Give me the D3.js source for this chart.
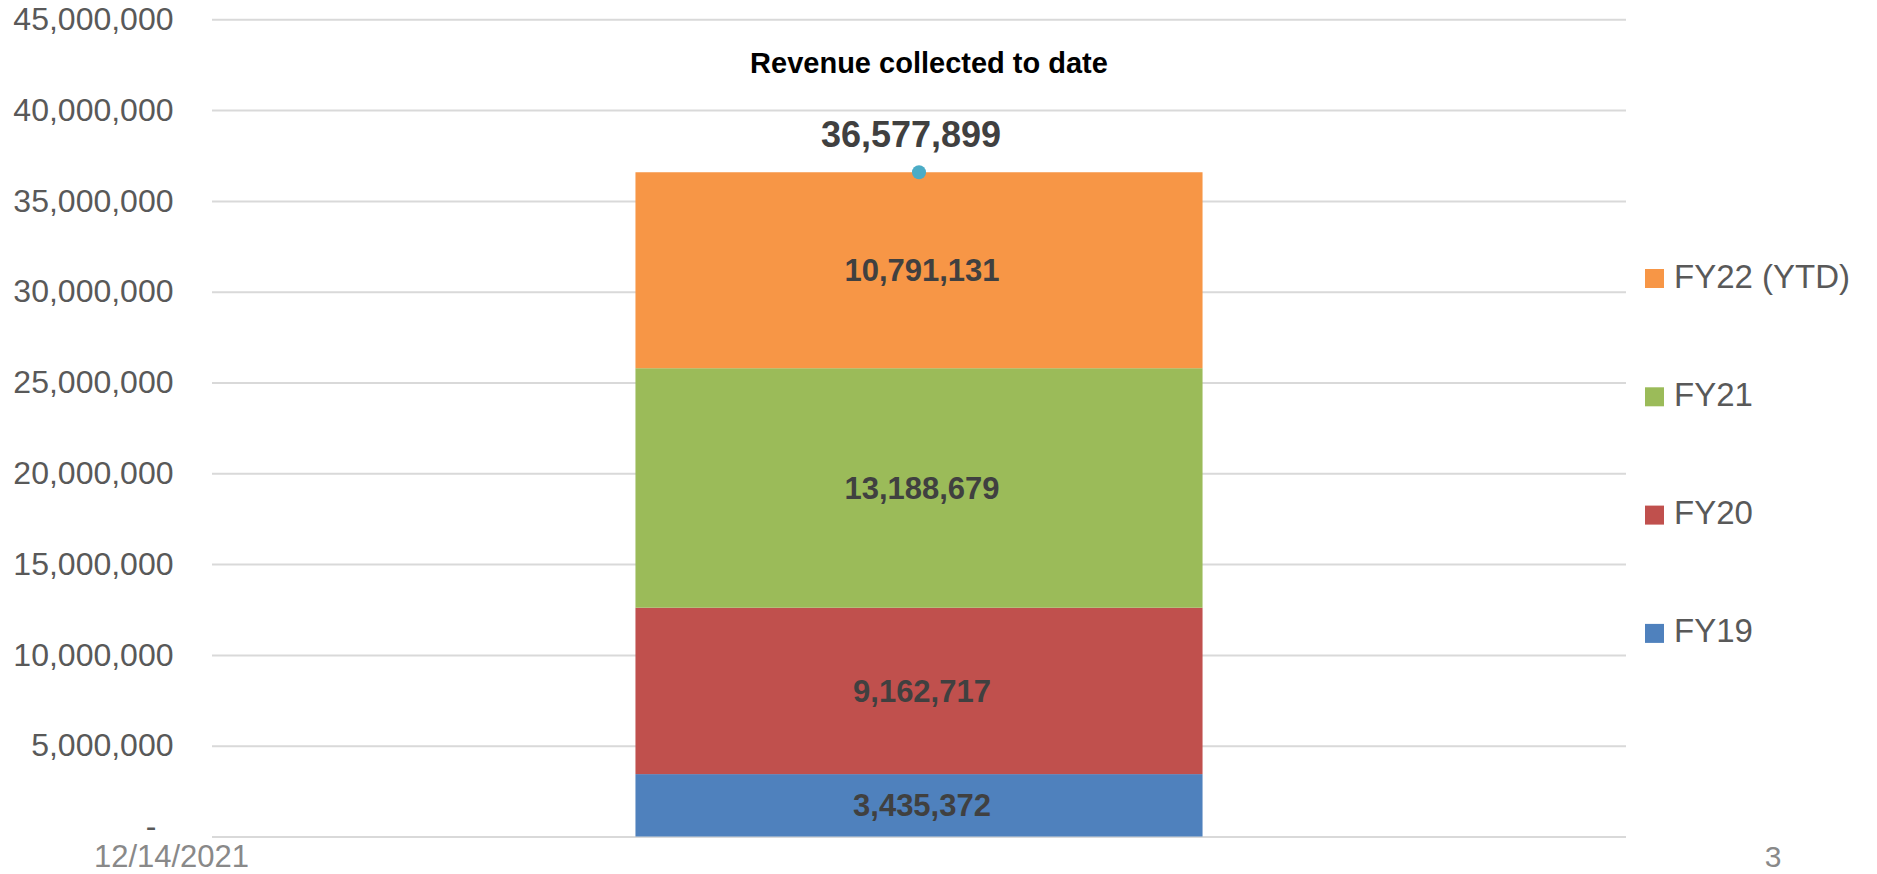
<!DOCTYPE html>
<html>
<head>
<meta charset="utf-8">
<script src="https://cdn.jsdelivr.net/npm/d3@7"></script>
<style>
  body { margin: 0; background: #fff; }
  svg { display: block; font-family: "Liberation Sans", Arial, sans-serif; }
</style>
</head>
<body>
<svg id="chart" width="1877" height="874"></svg>
<script>
"use strict";

// chart data
const categories = ["Revenue collected to date"];
const seriesNames = ["FY19", "FY20", "FY21", "FY22 (YTD)"];
const seriesValues = [3435372, 9162717, 13188679, 10791131];
const seriesColors = ["#4F81BD", "#C0504D", "#9BBB59", "#F79646"];
const yTicks = [0, 5000000, 10000000, 15000000, 20000000, 25000000, 30000000, 35000000, 40000000, 45000000];
const footerDate = "12/14/2021";
const footerPage = "3";

const svg = d3.select("#chart");
const plot = {left: 212, right: 1626, top: 19.3, bottom: 836.5};

const x = d3.scaleBand()
    .domain(categories)
    .range([plot.left, plot.right])
    .paddingInner(0.4275)
    .paddingOuter(0.4275);

const y = d3.scaleLinear()
    .domain([0, 45000000])
    .range([plot.bottom, plot.top]);

const fmt = d3.format(",");

// y axis with gridlines
const yAxis = svg.append("g")
    .attr("transform", `translate(${plot.left},0)`)
    .call(d3.axisLeft(y)
        .tickValues(yTicks)
        .tickSizeInner(-(plot.right - plot.left))
        .tickSizeOuter(0)
        .tickPadding(38.5)
        .tickFormat(d => d === 0 ? "-" : fmt(d)));

yAxis.select(".domain").remove();
yAxis.selectAll(".tick line").attr("stroke", "#d9d9d9").attr("stroke-width", 2);
yAxis.selectAll(".tick text")
    .attr("fill", "#595959")
    .style("font-size", "32px")
    .attr("dx", d => d === 0 ? -17 : 0)
    .attr("dy", d => d === 0 ? "0.0em" : "0.32em");

// stacked segments
const stacked = [];
let base = 0;
seriesValues.forEach((v, i) => {
    stacked.push({name: seriesNames[i], value: v, y0: base, y1: base + v, color: seriesColors[i]});
    base += v;
});
const total = base;
const cat = categories[0];

svg.append("g").selectAll("rect")
    .data(stacked)
    .enter().append("rect")
    .attr("x", x(cat))
    .attr("width", x.bandwidth())
    .attr("y", d => y(d.y1))
    .attr("height", d => y(d.y0) - y(d.y1))
    .attr("fill", d => d.color);

svg.append("g").selectAll("text")
    .data(stacked)
    .enter().append("text")
    .attr("x", x(cat) + x.bandwidth() / 2 + 3)
    .attr("y", d => (y(d.y0) + y(d.y1)) / 2 + 11)
    .attr("text-anchor", "middle")
    .attr("fill", "#404040")
    .style("font-size", "31px")
    .style("font-weight", "bold")
    .text(d => fmt(d.value));

// total marker and label
svg.append("circle")
    .attr("cx", x(cat) + x.bandwidth() / 2)
    .attr("cy", y(total))
    .attr("r", 7)
    .attr("fill", "#4BACC6");

svg.append("text")
    .attr("x", x(cat) + x.bandwidth() / 2 - 8)
    .attr("y", y(total) - 25.6)
    .attr("text-anchor", "middle")
    .attr("fill", "#404040")
    .style("font-size", "36px")
    .style("font-weight", "bold")
    .text(fmt(total));

// title
svg.append("text")
    .attr("x", 929)
    .attr("y", 73)
    .attr("text-anchor", "middle")
    .attr("fill", "#000")
    .style("font-size", "29px")
    .style("font-weight", "bold")
    .text(categories[0]);

// legend (top to bottom: reversed series order)
const legendItems = seriesNames.map((n, i) => ({name: n, color: seriesColors[i]})).reverse();
const legend = svg.append("g").selectAll("g")
    .data(legendItems)
    .enter().append("g")
    .attr("transform", (d, i) => `translate(1645,${278.5 + i * 118.3})`);

legend.append("rect")
    .attr("x", 0)
    .attr("y", -9.5)
    .attr("width", 19)
    .attr("height", 19)
    .attr("fill", d => d.color);

legend.append("text")
    .attr("x", 29)
    .attr("y", 9)
    .attr("fill", "#595959")
    .style("font-size", "33px")
    .text(d => d.name);

// slide footer
svg.append("text")
    .attr("x", 171.5)
    .attr("y", 867)
    .attr("text-anchor", "middle")
    .attr("fill", "#898989")
    .style("font-size", "31px")
    .text(footerDate);

svg.append("text")
    .attr("x", 1773)
    .attr("y", 867)
    .attr("text-anchor", "middle")
    .attr("fill", "#898989")
    .style("font-size", "30px")
    .text(footerPage);
</script>
</body>
</html>
